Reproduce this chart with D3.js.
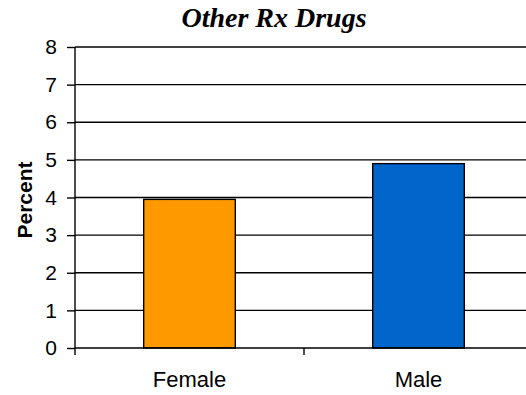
<!DOCTYPE html>
<html><head><meta charset="utf-8">
<script src="https://cdn.jsdelivr.net/npm/d3@7"></script>
<style>body{margin:0;background:#fff;}svg{display:block;}</style>
</head><body>
<script>
const categories = ["Female", "Male"];
const values = [3.95, 4.9];
const colors = ["#FF9900", "#0066CC"];
const yTicks = [0,1,2,3,4,5,6,7,8];
const title = "Other Rx Drugs";
const yLabel = "Percent";

const W = 526, H = 395;
const m = {left: 75, right: -7, top: 47, bottom: 47};
const svg = d3.select("body").append("svg").attr("width", W).attr("height", H);
const x = d3.scaleBand().domain(categories).range([m.left, W - m.right]).paddingInner(0.6).paddingOuter(0.3);
const y = d3.scaleLinear().domain([0, 8]).range([H - m.bottom, m.top]);

// gridlines
svg.append("g").selectAll("line").data(yTicks.slice(1)).join("line")
  .attr("x1", m.left).attr("x2", W - m.right)
  .attr("y1", d => y(d)).attr("y2", d => y(d))
  .attr("stroke", "#000").attr("stroke-width", 1.4);

// bars
svg.append("g").selectAll("rect").data(values).join("rect")
  .attr("x", (d, i) => x(categories[i]))
  .attr("width", x.bandwidth())
  .attr("y", d => y(d))
  .attr("height", d => y(0) - y(d))
  .attr("fill", (d, i) => colors[i])
  .attr("stroke", "#000").attr("stroke-width", 1.4);

// y axis
const ya = svg.append("g").attr("transform", `translate(${m.left},0)`)
  .call(d3.axisLeft(y).tickValues(yTicks).tickSize(8).tickPadding(10).tickFormat(d3.format("d")));
ya.select(".domain").attr("stroke", "#000").attr("stroke-width", 1.4).attr("d", `M-0,${y(8)}V${y(0)}`);
ya.selectAll(".tick line").attr("stroke", "#000").attr("stroke-width", 1.4);
ya.selectAll("text").attr("font-family", "Liberation Sans, Arial, sans-serif").attr("font-size", 21).attr("fill", "#000");

// x axis
const xBoundaries = d3.scaleLinear().domain([0, categories.length]).range([m.left, W - m.right]);
const xa = svg.append("g").attr("transform", `translate(0,${y(0)})`);
xa.append("line").attr("x1", m.left).attr("x2", W - m.right).attr("stroke", "#000").attr("stroke-width", 1.4);
xa.selectAll(".xt").data(d3.range(categories.length + 1)).join("line").attr("class", "xt")
  .attr("x1", d => xBoundaries(d)).attr("x2", d => xBoundaries(d))
  .attr("y1", 0).attr("y2", 7).attr("stroke", "#000").attr("stroke-width", 1.4);
xa.selectAll("text").data(categories).join("text")
  .attr("x", d => x(d) + x.bandwidth() / 2).attr("y", 39)
  .attr("text-anchor", "middle")
  .attr("font-family", "Liberation Sans, Arial, sans-serif").attr("font-size", 22)
  .text(d => d);

// title
svg.append("text").attr("x", 274).attr("y", 27).attr("text-anchor", "middle")
  .attr("font-family", "Liberation Serif, Times New Roman, serif")
  .attr("font-weight", "bold").attr("font-style", "italic").attr("font-size", 28)
  .text(title);

// y label
svg.append("text").attr("transform", `translate(32,200) rotate(-90)`)
  .attr("text-anchor", "middle")
  .attr("font-family", "Liberation Sans, Arial, sans-serif").attr("font-weight", "bold").attr("font-size", 21)
  .text(yLabel);
</script>
</body></html>
